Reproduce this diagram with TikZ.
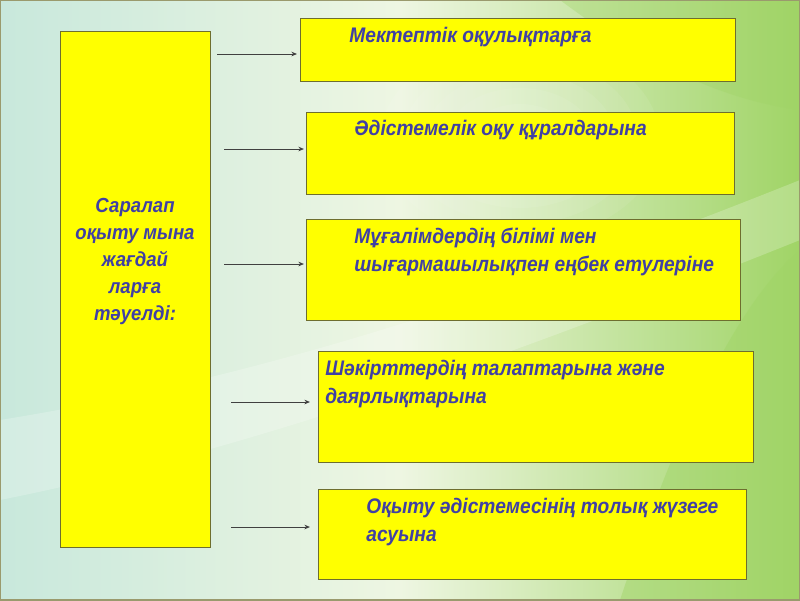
\documentclass[tikz,border=0pt]{standalone}
\usepackage{fontspec}
\setmainfont{Liberation Sans}
\usetikzlibrary{arrows.meta}
\definecolor{boxyellow}{HTML}{FFFF00}
\definecolor{boxline}{HTML}{6E6E2E}
\definecolor{textblue}{HTML}{4040A4}
\definecolor{bgleft}{HTML}{C8E8DC}
\definecolor{bgmid}{HTML}{EEF6E2}
\definecolor{bgright}{HTML}{A0D466}
\tikzset{
	box/.style={draw=boxline, fill=boxyellow, line width=0.6pt, anchor=north west, inner sep=0pt},
	boxtext/.style={anchor=north west, inner sep=0pt, text=textblue, align=left,
		font=\addfontfeature{FakeStretch=0.91}\fontsize{12}{15.6}\selectfont\bfseries\itshape},
	link/.style={draw=black!75, line width=0.55pt, -{Stealth[length=3.2pt,width=2.6pt]}}
}
\begin{document}
\begin{tikzpicture}[x=0.02cm, y=-0.02cm]
		\useasboundingbox (0,0) rectangle (800,600);
		% background
		\shade[left color=bgleft, right color=bgright, middle color=bgmid] (0,0) rectangle (800,600);
		\fill[white, opacity=0.22] (0,420) .. controls (250,380) and (500,300) .. (800,180) -- (800,240) .. controls (500,360) and (250,450) .. (0,500) -- cycle;
		\foreach \r in {1,...,5}
			\fill[white, opacity=0.07] (520,140) ellipse (30+\r*22 and 20+\r*16);
		\fill[bgright, opacity=0.45] (620,600) .. controls (680,420) and (740,300) .. (800,250) -- (800,600) -- cycle;
		\fill[bgright, opacity=0.35] (560,0) .. controls (640,60) and (720,100) .. (800,110) -- (800,0) -- cycle;
		\draw[boxline!70, line width=0.8pt] (0,0) rectangle (800,600);
		% boxes
		\node[box, minimum width=3cm, minimum height=10.32cm] (cond) at (60,31) {};
		\node[box, minimum width=8.7cm, minimum height=1.26cm] (books) at (300,18) {};
		\node[box, minimum width=8.56cm, minimum height=1.64cm] (aids) at (306,112) {};
		\node[box, minimum width=8.68cm, minimum height=2.02cm] (teach) at (306,219) {};
		\node[box, minimum width=8.7cm, minimum height=2.22cm] (pupils) at (318,351) {};
		\node[box, minimum width=8.56cm, minimum height=1.8cm] (method) at (318,489) {};
		% texts
		\node[boxtext, anchor=north, align=center, font=\addfontfeature{FakeStretch=0.91}\fontsize{11.6}{15.4}\selectfont\bfseries\itshape] (condtext) at (135,198) {Саралап\\оқыту мына\\жағдай\\ларға\\тәуелді:};
		\node[boxtext] (bookstext) at (349,27) {Мектептік оқулықтарға};
		\node[boxtext] (aidstext) at (354,120) {Әдістемелік оқу құралдарына};
		\node[boxtext] (teachtext) at (354,228) {Мұғалімдердің білімі мен\\шығармашылықпен еңбек етулеріне};
		\node[boxtext] (pupilstext) at (325,360) {Шәкірттердің талаптарына және\\даярлықтарына};
		\node[boxtext] (methodtext) at (366,498) {Оқыту әдістемесінің толық жүзеге\\асуына};
		% arrows
		\coordinate (s1) at (217,54);  \coordinate (e1) at (297,54);
		\coordinate (s2) at (224,149); \coordinate (e2) at (304,149);
		\coordinate (s3) at (224,264); \coordinate (e3) at (304,264);
		\coordinate (s4) at (231,402); \coordinate (e4) at (310,402);
		\coordinate (s5) at (231,527); \coordinate (e5) at (310,527);
		\foreach \i in {1,...,5}
			\draw[link] (s\i) -- (e\i);
	\end{tikzpicture}
\end{document}
